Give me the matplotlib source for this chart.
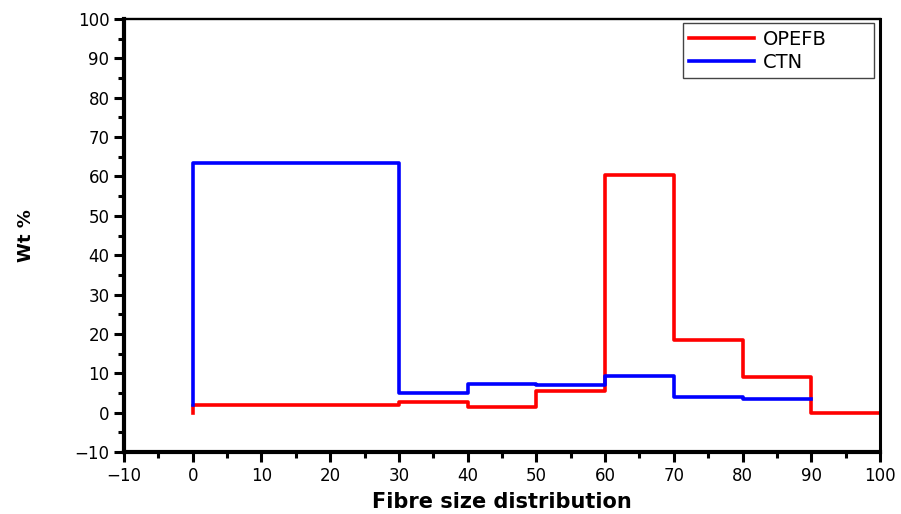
import matplotlib.pyplot as plt
from matplotlib.ticker import MultipleLocator

# bin edges and step values (Wt %)
edges = [0, 30, 40, 50, 60, 70, 80, 90, 100]
opefb = [2.0, 2.8, 1.4, 5.6, 60.3, 18.4, 9.0, 0.0]
ctn_edges = [0, 30, 40, 50, 60, 70, 80, 90]
ctn = [63.3, 5.1, 7.3, 6.9, 9.4, 3.9, 3.5]

plt.rcParams['font.family'] = ['DejaVu Sans']

fig = plt.figure(figsize=(9.01, 5.14), dpi=100)
ax = fig.add_axes([0.1376, 0.1206, 0.8391, 0.8424])

# red rises from 0 at x=0 and runs on to 100
rx = [edges[0]] + edges
ry = [0] + opefb + [opefb[-1]]
ax.step(rx, ry, where='post', color='#ff0000', lw=2.6, label='OPEFB')

bx = [ctn_edges[0]] + ctn_edges
by = [2.0] + ctn + [ctn[-1]]
ax.step(bx, by, where='post', color='#0000ff', lw=2.6, label='CTN')

ax.set_xlim(-10, 100)
ax.set_ylim(-10, 100)
ax.xaxis.set_major_locator(MultipleLocator(10))
ax.yaxis.set_major_locator(MultipleLocator(10))
ax.xaxis.set_minor_locator(MultipleLocator(5))
ax.yaxis.set_minor_locator(MultipleLocator(5))
ax.tick_params(which='major', direction='out', length=7.5, width=2.2, labelsize=12, pad=3)
ax.tick_params(which='minor', direction='out', length=4, width=2.2)
ax.tick_params(top=False, right=False, which='both')

for s in ['left', 'bottom']:
    ax.spines[s].set_linewidth(3)
ax.spines['top'].set_linewidth(1.7)
ax.spines['right'].set_linewidth(2.2)

ax.set_xlabel('Fibre size distribution', fontsize=15, fontweight='bold', labelpad=5)
ax.set_ylabel('Wt %', fontsize=13, fontweight='bold')
ax.yaxis.set_label_coords(-0.118, 0.5)

leg = ax.legend(loc='upper left', bbox_to_anchor=(0.739, 0.5, 0.253, 0.491),
                mode='expand', fontsize=14, fancybox=False, framealpha=1,
                edgecolor='#444444', handlelength=3.3, handletextpad=0.45,
                borderaxespad=0, labelspacing=0.2, borderpad=0.35)
leg.get_frame().set_linewidth(1.0)

fig.savefig('out.png', dpi=100)
